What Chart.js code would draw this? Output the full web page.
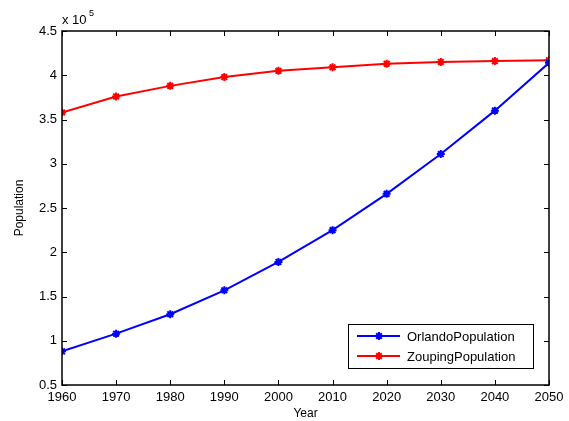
<!DOCTYPE html>
<html>
<head>
<meta charset="utf-8">
<script src="https://cdn.jsdelivr.net/npm/chart.js@4/dist/chart.umd.min.js"></script>
<style>
  html, body { margin: 0; padding: 0; background: #fff; }
  #wrap { width: 569px; height: 421px; }
</style>
</head>
<body>
<div id="wrap"><canvas id="popChart" width="569" height="421"></canvas></div>
<script>
const years = [1960, 1970, 1980, 1990, 2000, 2010, 2020, 2030, 2040, 2050];
const orlando = [88000, 108000, 130000, 157000, 189000, 225000, 266000, 311000, 360000, 414000];
const zouping = [358000, 376000, 388000, 398000, 405000, 409000, 413000, 415000, 416000, 417000];
const seriesNames = ['OrlandoPopulation', 'ZoupingPopulation'];

const FONT = '"Liberation Sans", Arial, sans-serif';

// inward ticks on all four sides, box outline, exponent label and legend
const matlabBox = {
  id: 'matlabBox',
  afterDraw(chart) {
    const { ctx, chartArea: a, scales } = chart;
    const xs = scales.x, ys = scales.y;
    ctx.save();
    ctx.strokeStyle = '#000';
    ctx.lineWidth = 1;
    ctx.beginPath();
    xs.ticks.forEach(t => {
      const px = Math.round(xs.getPixelForValue(t.value)) + 0.5;
      ctx.moveTo(px, a.bottom); ctx.lineTo(px, a.bottom - 5);
      ctx.moveTo(px, a.top); ctx.lineTo(px, a.top + 5);
    });
    ys.ticks.forEach(t => {
      const py = Math.round(ys.getPixelForValue(t.value)) + 0.5;
      ctx.moveTo(a.left, py); ctx.lineTo(a.left + 5, py);
      ctx.moveTo(a.right, py); ctx.lineTo(a.right - 5, py);
    });
    ctx.stroke();
    ctx.lineWidth = 1.5;
    ctx.strokeRect(a.left, a.top, a.right - a.left, a.bottom - a.top);

    // exponent
    ctx.fillStyle = '#000';
    ctx.font = '13px ' + FONT;
    ctx.textBaseline = 'alphabetic';
    ctx.textAlign = 'left';
    ctx.fillText('x 10', a.left, a.top - 7);
    ctx.font = '9px ' + FONT;
    ctx.fillText('5', a.left + 27, a.top - 15);

    // legend
    const lx = 348, ly = 324, lw = 185, lh = 44;
    ctx.fillStyle = '#fff';
    ctx.fillRect(lx, ly, lw, lh);
    ctx.lineWidth = 1;
    ctx.strokeStyle = '#000';
    ctx.strokeRect(lx + 0.5, ly + 0.5, lw, lh);
    chart.data.datasets.forEach((ds, i) => {
      const cy = ly + 12 + i * 20;
      ctx.strokeStyle = ds.borderColor;
      ctx.lineWidth = 2;
      ctx.beginPath();
      ctx.moveTo(lx + 9, cy); ctx.lineTo(lx + 52, cy);
      ctx.stroke();
      Chart.helpers.drawPoint(ctx, { pointStyle: 'star', radius: 4, borderWidth: 2 }, lx + 31, cy);
      ctx.fillStyle = '#000';
      ctx.font = '13px ' + FONT;
      ctx.textBaseline = 'middle';
      ctx.fillText(ds.label, lx + 59, cy + 1);
    });
    ctx.restore();
  }
};

new Chart(document.getElementById('popChart'), {
  type: 'line',
  data: {
    datasets: [
      { label: seriesNames[0], data: years.map((y, i) => ({ x: y, y: orlando[i] })), color: '#0000ff' },
      { label: seriesNames[1], data: years.map((y, i) => ({ x: y, y: zouping[i] })), color: '#ff0000' },
    ].map(d => ({
      label: d.label,
      data: d.data,
      borderColor: d.color,
      backgroundColor: d.color,
      pointBorderColor: d.color,
      borderWidth: 2,
      pointStyle: 'star',
      pointRadius: 4,
      pointBorderWidth: 2,
      tension: 0,
      fill: false,
    })),
  },
  options: {
    responsive: false,
    animation: false,
    layout: { padding: { top: 31, right: 20, left: 0, bottom: 0 } },
    plugins: { legend: { display: false }, tooltip: { enabled: false } },
    scales: {
      x: {
        type: 'linear', min: 1960, max: 2050,
        ticks: { stepSize: 10, color: '#000', font: { family: FONT, size: 13 }, padding: 5, maxRotation: 0,
                 callback: v => String(v) },
        grid: { drawOnChartArea: false, drawTicks: false },
        border: { display: false },
        title: { display: true, text: 'Year', color: '#000', font: { family: FONT, size: 12 }, padding: { top: 0, bottom: 0 } },
        afterFit: s => { s.height = 36; },
      },
      y: {
        min: 50000, max: 450000,
        ticks: { stepSize: 50000, color: '#000', font: { family: FONT, size: 13 }, padding: 5,
                 callback: v => String(+(v / 1e5).toFixed(1)) },
        grid: { drawOnChartArea: false, drawTicks: false },
        border: { display: false },
        title: { display: true, text: 'Population', color: '#000', font: { family: FONT, size: 12 }, padding: { top: 12, bottom: 0 } },
        afterFit: s => { s.width = 62; },
      },
    },
  },
  plugins: [matlabBox],
});
</script>
</body>
</html>
